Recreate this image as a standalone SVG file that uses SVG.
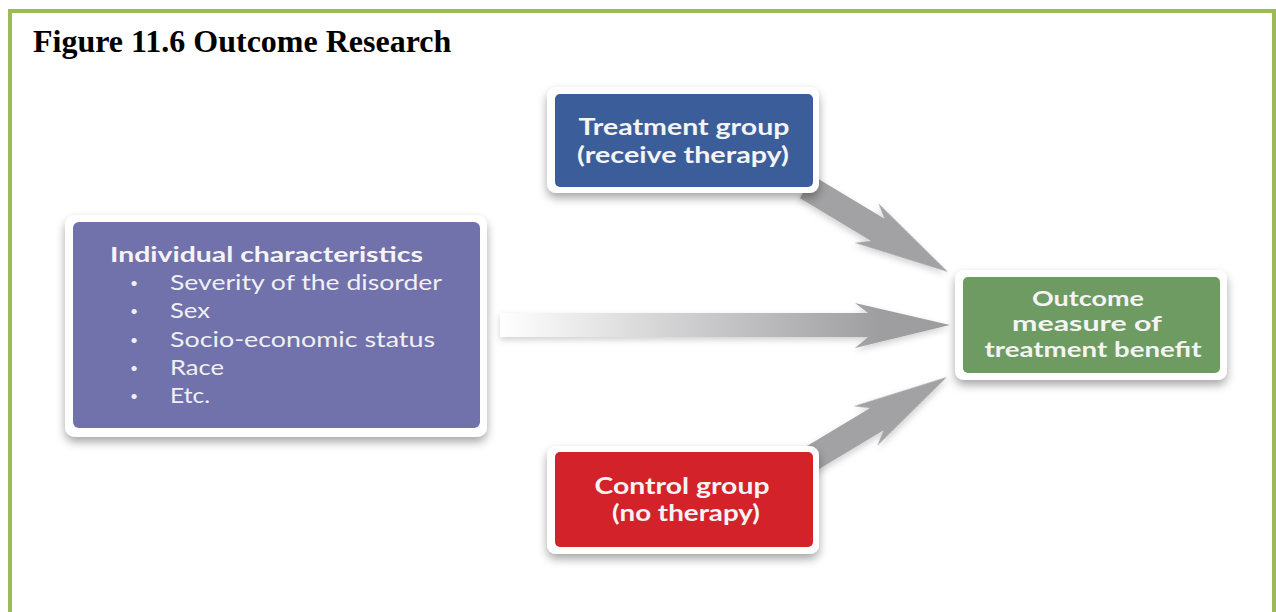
<svg xmlns="http://www.w3.org/2000/svg" width="1276" height="612" viewBox="0 0 1276 612">
<defs>
<style>
.title{font-family:"Liberation Serif","Times New Roman",serif;font-weight:bold;font-size:32px;fill:#000}
.bt{font-family:Lato,"Open Sans",sans-serif;font-weight:bold;font-size:22px;fill:#f4f4f4;text-anchor:middle}
.ot{font-size:20px}
.it{font-family:Lato,"Open Sans",sans-serif;font-size:21px;fill:#f0f0f4}
.bu{font-family:Lato,"Open Sans",sans-serif;font-size:14px;fill:#f0f0f4}
.ith{font-family:Lato,"Open Sans",sans-serif;font-weight:bold;font-size:21px;fill:#f4f4f6}
.frame{fill:#fff;filter:url(#sh)}
.arr{fill:#a2a2a4;filter:url(#ash)}
</style>
<filter id="sh" x="-10%" y="-20%" width="120%" height="150%">
<feDropShadow dx="0" dy="5" stdDeviation="5" flood-color="#000" flood-opacity="0.35"/>
</filter>
<filter id="ash" x="-10%" y="-30%" width="120%" height="160%">
<feDropShadow dx="0" dy="3" stdDeviation="3" flood-color="#000" flood-opacity="0.18"/>
</filter>
<linearGradient id="mg" x1="500" y1="0" x2="880" y2="0" gradientUnits="userSpaceOnUse">
<stop offset="0" stop-color="#ffffff"/>
<stop offset="0.35" stop-color="#dcdcdd"/>
<stop offset="1" stop-color="#9e9ea0"/>
</linearGradient>
</defs>
<rect width="1276" height="612" fill="#fff"/>
<path d="M10 612 V11 H1274 V612" fill="none" stroke="#9bbb59" stroke-width="4"/>
<text class="title" x="33" y="52">Figure 11.6 Outcome Research</text>

<g id="connectors">
<path class="arr" transform="translate(948,272) rotate(31)" d="M0 0 L-95 -23 L-82 -13 L-165 -13 L-165 13 L-82 13 L-95 23 Z"/>
<path d="M950 325 L855 303 L868 313 L500 313 L500 337 L868 337 L855 348 Z" fill="url(#mg)" filter="url(#ash)"/>
<path class="arr" transform="translate(947,377) rotate(-31)" d="M0 0 L-95 -23 L-82 -13 L-165 -13 L-165 13 L-82 13 L-95 23 Z"/>
</g>

<g id="treatment">
<rect class="frame" x="547" y="87" width="272" height="106" rx="9"/>
<rect x="555" y="94" width="258" height="93" rx="5" fill="#3b5e9b"/>
<text class="bt" x="684" y="135" textLength="211" lengthAdjust="spacingAndGlyphs">Treatment group</text>
<text class="bt" x="683" y="163" textLength="212" lengthAdjust="spacingAndGlyphs">(receive therapy)</text>
</g>

<g id="individual">
<rect class="frame" x="65" y="215" width="422" height="222" rx="10"/>
<rect x="73" y="222" width="407" height="206" rx="6" fill="#7171ab"/>
<text class="ith" x="110" y="262" textLength="313" lengthAdjust="spacingAndGlyphs">Individual characteristics</text>
<g class="bu">
<text x="130" y="288">•</text>
<text x="130" y="316">•</text>
<text x="130" y="345">•</text>
<text x="130" y="373">•</text>
<text x="130" y="401">•</text>
</g>
<g class="it">
<text x="170" y="290" textLength="272" lengthAdjust="spacingAndGlyphs">Severity of the disorder</text>
<text x="170" y="318" textLength="40" lengthAdjust="spacingAndGlyphs">Sex</text>
<text x="170" y="347" textLength="265" lengthAdjust="spacingAndGlyphs">Socio-economic status</text>
<text x="170" y="375" textLength="54" lengthAdjust="spacingAndGlyphs">Race</text>
<text x="170" y="403" textLength="40" lengthAdjust="spacingAndGlyphs">Etc.</text>
</g>
</g>

<g id="outcome">
<rect class="frame" x="955" y="270" width="272" height="110" rx="9"/>
<rect x="963" y="277" width="257" height="96" rx="5" fill="#6d9b61"/>
<text class="bt ot" x="1088" y="306" textLength="112" lengthAdjust="spacingAndGlyphs">Outcome</text>
<text class="bt ot" x="1087" y="331" textLength="150" lengthAdjust="spacingAndGlyphs">measure of</text>
<text class="bt ot" x="1093" y="357" textLength="217" lengthAdjust="spacingAndGlyphs">treatment benefit</text>
</g>

<g id="control">
<rect class="frame" x="547" y="446" width="272" height="108" rx="9"/>
<rect x="555" y="452" width="258" height="95" rx="5" fill="#d3222a"/>
<text class="bt" x="682" y="494" textLength="175" lengthAdjust="spacingAndGlyphs">Control group</text>
<text class="bt" x="686" y="521" textLength="148" lengthAdjust="spacingAndGlyphs">(no therapy)</text>
</g>
</svg>
